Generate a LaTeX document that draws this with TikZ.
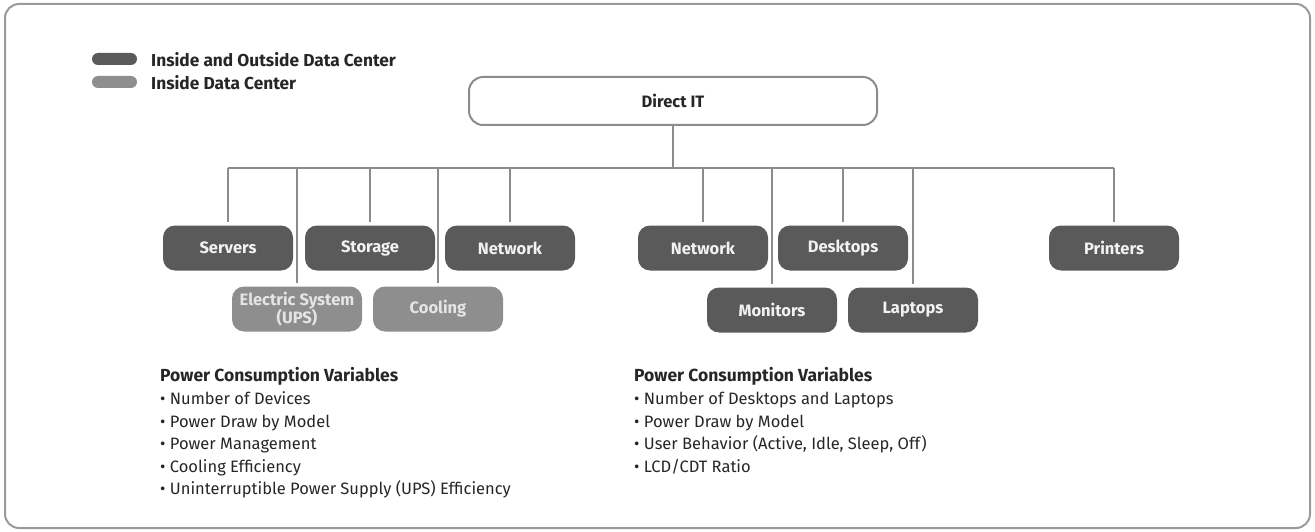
\documentclass[tikz,border=0pt]{standalone}
\usepackage{fontspec}
\setmainfont{Fira Sans}
\definecolor{darkbox}{HTML}{5A5A5A}
\definecolor{lightbox}{HTML}{8E8E8E}
\definecolor{linegray}{HTML}{8C8C8C}
\definecolor{framegray}{HTML}{9A9A9A}
\definecolor{txt}{HTML}{262626}
\tikzset{
  unitbox/.style={rounded corners=12pt, minimum width=130pt, minimum height=45pt, inner sep=0pt,
    font=\bfseries\fontsize{16.5}{17}\selectfont, align=center},
  darkunit/.style={unitbox, fill=darkbox, text=white!95!black},
  lightunit/.style={unitbox, fill=lightbox, text=white!90!black},
  link/.style={draw=linegray, line width=2pt, shorten >=3pt},
  pill/.style={rounded corners=6pt, minimum width=45pt, minimum height=12pt, inner sep=0pt},
  legendtext/.style={anchor=west, inner sep=0pt, text=txt, font=\bfseries\fontsize{17.3}{18}\selectfont},
  varlist/.style={anchor=north west, inner sep=0pt, align=left, text=txt, font=\fontsize{16.5}{22.6}\selectfont},
}
\begin{document}
\begin{tikzpicture}[x=1pt,y=-1pt]
\useasboundingbox (0,0) rectangle (1315,532);
\draw[framegray, line width=2pt, rounded corners=14pt] (5,4) rectangle (1310,528);

% legend
\node[pill, fill=darkbox] (lgdark) at (114.5,59) {};
\node[pill, fill=lightbox] (lglight) at (114.5,82) {};
\node[legendtext] (lgdarktext) at (151,60) {Inside and Outside Data Center};
\node[legendtext] (lglighttext) at (151,83) {Inside Data Center};

% root
\node[draw=linegray, line width=2pt, fill=white, rounded corners=14pt, minimum width=408pt, minimum height=48pt,
  inner sep=0pt, text=txt, font=\bfseries\fontsize{16.5}{17}\selectfont] (direct) at (673,101) {Direct IT};

% children
\node[darkunit] (servers) at (228,248) {Servers};
\node[darkunit] (storage) at (370,248) {Storage};
\node[darkunit] (net1) at (510,248) {Network};
\node[lightunit] (electric) at (297,309) {Electric System\\[-1pt](UPS)};
\node[lightunit] (cooling) at (438,309) {Cooling};
\node[darkunit] (net2) at (703,248) {Network};
\node[darkunit] (desktops) at (843,248) {Desktops};
\node[darkunit] (monitors) at (772,310) {Monitors};
\node[darkunit] (laptops) at (913,310) {Laptops};
\node[darkunit] (printers) at (1114,248) {Printers};

% bus
\coordinate (busL) at (228,168);
\coordinate (busR) at (1114,168);
\coordinate (bus) at (673,168);
\draw[draw=linegray, line width=2pt] (direct.south) -- (bus);
\draw[draw=linegray, line width=2pt] (busL) -- (busR);
\foreach \n in {servers,storage,net1,electric,cooling,net2,desktops,monitors,laptops,printers}
  \draw[link] (\n.north |- busL) -- (\n.north);

% variables
\node[varlist] (leftvars) at (160,367.5) {{\bfseries\fontsize{17.5}{22.6}\selectfont Power Consumption Variables}\\
• Number of Devices\\
• Power Draw by Model\\
• Power Management\\
• Cooling Efficiency\\
• Uninterruptible Power Supply (UPS) Efficiency};
\node[varlist] (rightvars) at (634,367.5) {{\bfseries\fontsize{17.5}{22.6}\selectfont Power Consumption Variables}\\
• Number of Desktops and Laptops\\
• Power Draw by Model\\
• User Behavior (Active, Idle, Sleep, Off)\\
• LCD/CDT Ratio};
\end{tikzpicture}
\end{document}
